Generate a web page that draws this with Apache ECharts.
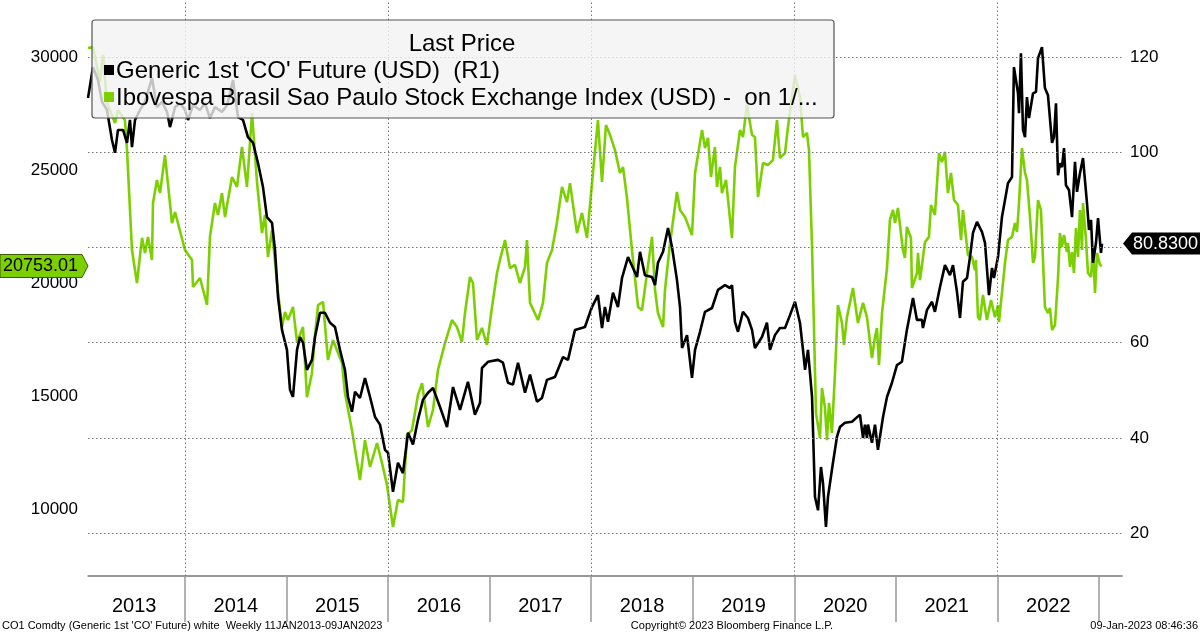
<!DOCTYPE html>
<html><head><meta charset="utf-8">
<script src="https://cdn.jsdelivr.net/npm/echarts@6/dist/echarts.min.js"></script>
<style>html,body{margin:0;padding:0;background:#fff}#c{width:1200px;height:633px}</style>
</head><body><div id="c"></div>
<script>
// Ibovespa (USD), left axis; x = decimal year
const ibovDates = [2013.045,2013.094,2013.163,2013.193,2013.232,2013.311,2013.340,2013.409,2013.429,2013.478,2013.527,2013.577,2013.606,2013.636,2013.675,2013.685,2013.724,2013.754,2013.803,2013.872,2013.902,
2014.000,2014.069,2014.079,2014.148,2014.217,2014.246,2014.295,2014.325,2014.364,2014.394,2014.463,2014.512,2014.561,2014.610,2014.660,2014.709,2014.758,2014.788,2014.817,2014.857,2014.906,2014.955,2014.985,
2015.014,2015.063,2015.103,2015.162,2015.201,2015.250,2015.280,2015.310,2015.359,2015.408,2015.457,2015.546,2015.575,2015.644,2015.723,2015.772,2015.822,2015.891,2015.940,2015.989,
2016.048,2016.097,2016.146,2016.186,2016.235,2016.294,2016.334,2016.393,2016.442,2016.491,2016.560,2016.629,2016.678,2016.727,2016.757,2016.806,2016.836,2016.875,2016.924,2016.973,
2017.023,2017.072,2017.101,2017.151,2017.200,2017.249,2017.298,2017.348,2017.367,2017.397,2017.476,2017.525,2017.564,2017.614,2017.663,2017.712,2017.761,2017.791,2017.860,2017.909,2017.958,
2018.017,2018.066,2018.106,2018.145,2018.185,2018.234,2018.283,2018.313,2018.352,2018.401,2018.461,2018.500,2018.549,2018.598,2018.628,2018.657,2018.707,2018.726,2018.776,2018.844,2018.874,2018.923,2018.992,
2019.022,2019.091,2019.120,2019.150,2019.179,2019.218,2019.238,2019.268,2019.287,2019.327,2019.386,2019.415,2019.465,2019.494,2019.533,2019.583,2019.612,2019.642,2019.691,2019.740,2019.789,2019.829,2019.858,2019.908,2019.937,
2020.006,2020.055,2020.085,2020.124,2020.144,2020.174,2020.213,2020.252,2020.272,2020.301,2020.321,2020.341,2020.370,2020.400,2020.429,2020.469,2020.488,2020.518,2020.577,2020.626,2020.676,2020.715,2020.764,2020.794,2020.813,2020.833,2020.863,2020.912,2020.941,2020.971,2020.991,
2021.020,2021.069,2021.089,2021.108,2021.148,2021.158,2021.207,2021.217,2021.237,2021.286,2021.325,2021.345,2021.384,2021.424,2021.453,2021.483,2021.512,2021.542,2021.572,2021.611,2021.641,2021.660,2021.709,2021.749,2021.778,2021.788,2021.808,2021.827,2021.857,2021.896,2021.936,2021.975,
2022.005,2022.015,2022.044,2022.074,2022.103,2022.143,2022.172,2022.192,2022.212,2022.241,2022.271,2022.290,2022.320,2022.350,2022.369,2022.399,2022.428,2022.467,2022.497,2022.517,2022.537,2022.566,2022.596,2022.615,2022.635,2022.655,2022.684,2022.694,2022.714,2022.734,2022.753,2022.773,2022.793,2022.812,2022.832,2022.842,2022.872,2022.891,2022.921,2022.940,2022.960,2022.980,2023.009,2023.029];
const ibovValues = [30400,30440,28900,30100,27960,27080,27650,27200,25900,21460,20000,22000,21330,22040,21020,23540,24560,23980,25660,22650,23140,
21460,21020,19820,20220,19025,22040,23540,23010,23980,22920,24690,24250,26020,24250,27520,24470,22210,23010,21150,22340,20000,18050,18720,
18360,18940,17390,18050,14950,16010,17700,19025,19160,16590,17480,16460,15130,13490,11280,13050,11860,12920,12030,11060,
9200,10400,10310,13270,13490,15040,15570,13630,14380,16150,17340,18360,18050,17390,18670,20265,20000,17480,18010,17260,
18940,20440,21020,21900,20660,20800,20000,20710,21900,19120,18360,19120,20890,21460,22700,24250,23580,24420,22210,23100,21990,
24870,27210,24470,26990,26550,25880,24870,25130,23760,21460,18940,18800,20440,22040,19690,18670,18050,19690,21770,24030,23230,22920,22120,
24870,26770,25970,26420,24690,26020,24250,25130,23980,24560,21990,25130,26770,26460,27880,26550,26460,23800,25310,25220,25440,27210,25530,25750,26900,
29200,28230,26460,26640,25880,21600,14250,13140,15350,14510,13050,14690,13360,16010,19025,18230,17260,18490,19780,18230,19120,18490,16680,17610,18010,16370,18670,20660,22790,23230,22650,
23320,21460,21110,22480,21990,19780,20440,21330,20130,21810,22040,23450,23010,25750,25350,25800,23980,24870,23670,23450,21900,23230,21240,21150,20570,21020,18490,18360,19470,18360,19250,18490,
19025,18270,19560,20890,21900,22040,22650,22260,23540,25970,24870,24560,22920,20890,21150,23670,23230,18940,18670,18900,17920,18140,20220,22210,21600,22120,21370,21770,20710,21370,20440,22430,21150,23230,21460,23540,21900,20440,20265,21600,19560,21330,20800,20753.01];

// Generic 1st 'CO' Future (USD), right axis
const oilDates = [2013.045,2013.094,2013.143,2013.183,2013.232,2013.281,2013.311,2013.340,2013.390,2013.429,2013.458,2013.478,2013.508,2013.557,2013.606,2013.675,2013.724,2013.774,2013.823,2013.852,2013.902,2013.951,
2014.000,2014.030,2014.079,2014.148,2014.197,2014.246,2014.295,2014.364,2014.414,2014.473,2014.522,2014.571,2014.620,2014.670,2014.719,2014.768,2014.807,2014.857,2014.886,2014.916,2014.955,
2015.004,2015.034,2015.063,2015.103,2015.132,2015.162,2015.201,2015.250,2015.280,2015.329,2015.378,2015.428,2015.477,2015.526,2015.575,2015.605,2015.644,2015.674,2015.723,2015.772,2015.822,2015.871,2015.920,2015.969,2015.999,
2016.048,2016.097,2016.146,2016.196,2016.245,2016.294,2016.343,2016.393,2016.442,2016.511,2016.580,2016.639,2016.708,2016.786,2016.855,2016.905,2016.924,2016.983,
2017.082,2017.131,2017.180,2017.229,2017.279,2017.348,2017.397,2017.466,2017.515,2017.564,2017.643,2017.722,2017.771,2017.840,2017.938,
2018.007,2018.066,2018.106,2018.135,2018.165,2018.214,2018.263,2018.303,2018.362,2018.451,2018.480,2018.529,2018.598,2018.628,2018.657,2018.707,2018.756,2018.795,2018.844,2018.874,2018.894,2018.943,2018.992,
2019.022,2019.071,2019.120,2019.189,2019.248,2019.317,2019.366,2019.386,2019.415,2019.445,2019.494,2019.543,2019.583,2019.612,2019.681,2019.730,2019.760,2019.809,2019.858,2019.908,2019.957,
2020.006,2020.055,2020.085,2020.105,2020.134,2020.174,2020.203,2020.233,2020.262,2020.282,2020.311,2020.331,2020.380,2020.420,2020.449,2020.498,2020.567,2020.646,2020.676,2020.695,2020.715,2020.725,2020.764,2020.794,2020.823,2020.873,2020.912,2020.961,
2021.010,2021.059,2021.108,2021.168,2021.207,2021.256,2021.266,2021.306,2021.355,2021.384,2021.434,2021.483,2021.532,2021.562,2021.601,2021.631,2021.660,2021.700,2021.729,2021.759,2021.798,2021.847,2021.877,2021.916,2021.946,2021.965,
2022.005,2022.044,2022.074,2022.103,2022.143,2022.162,2022.202,2022.212,2022.231,2022.251,2022.271,2022.290,2022.310,2022.350,2022.379,2022.399,2022.438,2022.467,2022.497,2022.537,2022.556,2022.576,2022.596,2022.615,2022.635,2022.655,2022.674,2022.704,2022.734,2022.763,2022.783,2022.812,2022.842,2022.881,2022.901,2022.921,2022.940,2022.970,2022.990,2023.019,2023.029];
const oilValues = [111.4,117.9,115.2,110.6,108.9,102.6,99.9,104.7,104.7,102.0,106.8,101.1,106.8,108.9,110.6,115.6,109.5,110.6,108.5,105.3,109.5,110.3,
108.9,106.8,109.9,108.9,110.3,107.2,109.5,108.5,109.9,115.2,107.4,106.8,103.2,102.0,97.7,92.7,86.4,85.2,79.5,69.6,62.7,
58.5,50.1,48.6,58.5,61.2,60.0,54.3,56.4,61.2,66.3,66.3,64.2,63.3,58.5,54.3,48.6,45.5,49.7,48.4,52.6,48.6,44.4,42.8,37.5,36.9,
28.7,34.8,32.6,41.1,38.6,43.8,48.0,49.5,50.5,46.5,42.3,50.7,45.9,51.8,44.9,47.4,54.7,56.0,
56.4,55.8,51.6,51.2,55.8,49.5,53.3,47.6,48.4,52.2,52.8,57.0,56.4,62.7,63.3,
67.5,70.0,63.1,67.5,64.4,70.5,67.5,73.6,78.0,73.8,79.1,74.2,73.8,72.1,76.8,79.1,84.1,80.1,73.2,67.5,58.9,61.6,52.6,
58.5,62.3,66.5,67.3,71.1,72.1,71.5,72.1,64.4,62.3,66.5,65.2,62.7,58.9,61.2,64.2,58.5,61.6,63.1,63.1,65.8,
68.6,64.2,58.5,54.3,58.5,48.6,27.6,24.8,33.9,30.5,21.3,27.6,34.8,40.3,42.3,43.2,43.4,44.9,40.0,42.8,40.0,42.8,39.0,42.8,37.5,44.4,48.6,51.6,
55.3,56.0,62.7,69.4,64.8,64.8,63.1,66.9,68.6,66.5,71.7,76.3,74.2,76.3,70.7,65.2,72.8,73.6,78.0,83.1,85.4,83.3,81.0,70.0,75.7,73.6,
78.0,86.4,90.0,93.5,94.8,117.9,112.4,108.2,120.8,104.7,103.2,111.6,107.2,112.4,112.7,119.8,122.1,113.5,112.0,102.0,103.2,110.3,95.2,97.7,96.9,100.9,93.1,92.1,86.4,98.0,91.7,95.6,98.8,89.4,83.7,85.8,76.8,81.0,86.2,78.9,80.83];

const leftTicks = [10000,15000,20000,25000,30000];
const rightTicks = [20,40,60,80,100,120];
const yearBounds = [2014,2015,2016,2017,2018,2019,2020,2021,2022,2023];
const yearLabels = [2013,2014,2015,2016,2017,2018,2019,2020,2021,2022];
const vGridYears = [2014,2016,2018,2020,2022];
const legendTitle = 'Last Price';
const oilName = "Generic 1st 'CO' Future (USD)  (R1)";
const ibovName = "Ibovespa Brasil Sao Paulo Stock Exchange Index (USD) -  on 1/...";
const footLeft = "CO1 Comdty (Generic 1st 'CO' Future) white  Weekly 11JAN2013-09JAN2023";
const footMid = "Copyright\u00A9 2023 Bloomberg Finance L.P.";
const footRight = "09-Jan-2023 08:46:36";

const GREEN = '#7ccf00';
const FONT = '"Liberation Sans", Arial, sans-serif';

const chart = echarts.init(document.getElementById('c'), null, {renderer: 'canvas'});
const zip = (xs, ys) => xs.map((x, i) => [x, ys[i]]);

const dotted = {type: [1.5, 2.5], color: '#777', width: 1};

chart.setOption({
  animation: false,
  backgroundColor: '#fff',
  grid: {left: 88, right: 78, top: 0, bottom: 57, containLabel: false},
  xAxis: {
    type: 'value', min: 2013.045, max: 2023.226,
    axisLine: {show: true, lineStyle: {color: '#777', width: 1.5}},
    axisTick: {show: true, customValues: yearBounds, length: 46, lineStyle: {color: '#999', width: 1.5}},
    axisLabel: {customValues: yearLabels.map(y => y + 0.5), formatter: v => String(Math.floor(v)),
      margin: 20, fontSize: 20, color: '#000', fontFamily: FONT},
    splitLine: {show: false}
  },
  yAxis: [
    {type: 'value', min: 7035, max: 32522, position: 'left',
     axisLine: {show: false}, axisTick: {show: false}, splitLine: {show: false},
     axisLabel: {customValues: leftTicks, formatter: v => String(v), margin: 10, fontSize: 17, color: '#000', fontFamily: FONT}},
    {type: 'value', min: 11, max: 132, position: 'right',
     axisLine: {show: false}, axisTick: {show: false}, splitLine: {show: false},
     axisLabel: {customValues: rightTicks, formatter: v => String(v), margin: 8, fontSize: 17, color: '#000', fontFamily: FONT}}
  ],
  series: [
    {name: ibovName, type: 'line', yAxisIndex: 0, data: zip(ibovDates, ibovValues),
     showSymbol: false, lineStyle: {color: GREEN, width: 2.6}, z: 2, silent: true},
    {name: oilName, type: 'line', yAxisIndex: 1, data: zip(oilDates, oilValues),
     showSymbol: false, lineStyle: {color: '#000', width: 2.6}, z: 3, silent: true,
     markLine: {silent: true, symbol: ['none', 'none'], label: {show: false}, lineStyle: dotted,
       emphasis: {disabled: true},
       data: rightTicks.map(v => ({yAxis: v})).concat(vGridYears.map(v => ({xAxis: v})))}}
  ]
});

const lastOil = oilValues[oilValues.length - 1];
const lastIbov = ibovValues[ibovValues.length - 1];
const yOil = chart.convertToPixel({yAxisIndex: 1}, lastOil);
const yIbov = chart.convertToPixel({yAxisIndex: 0}, lastIbov);

chart.setOption({
  graphic: [
    {type: 'rect', z: 100, shape: {x: 92, y: 20, width: 742, height: 98, r: 3},
     style: {fill: 'rgba(242,242,242,0.8)', stroke: '#555', lineWidth: 1.2}},
    {type: 'text', z: 101, x: 462, y: 44, style: {text: legendTitle, font: '24px ' + FONT, fill: '#000', align: 'center', verticalAlign: 'middle'}},
    {type: 'rect', z: 101, shape: {x: 104, y: 65, width: 10, height: 10}, style: {fill: '#000'}},
    {type: 'text', z: 101, x: 116, y: 71, style: {text: oilName, font: '24px ' + FONT, fill: '#000', verticalAlign: 'middle'}},
    {type: 'rect', z: 101, shape: {x: 104, y: 92, width: 10, height: 10}, style: {fill: GREEN}},
    {type: 'text', z: 101, x: 116, y: 98, style: {text: ibovName, font: '24px ' + FONT, fill: '#000', verticalAlign: 'middle'}},
    {type: 'polygon', z: 110, shape: {points: [[1123, yOil], [1132, yOil - 11], [1200, yOil - 11], [1200, yOil + 11], [1132, yOil + 11]]},
     style: {fill: '#000'}},
    {type: 'text', z: 111, x: 1133, y: yOil, style: {text: lastOil.toFixed(4), font: '18px ' + FONT, fill: '#fff', verticalAlign: 'middle'}},
    {type: 'polygon', z: 110, shape: {points: [[0, yIbov - 11.5], [82, yIbov - 11.5], [88, yIbov], [82, yIbov + 11.5], [0, yIbov + 11.5]]},
     style: {fill: GREEN, stroke: '#3a5a00', lineWidth: 1}},
    {type: 'text', z: 111, x: 3, y: yIbov, style: {text: lastIbov.toFixed(2), font: '18px ' + FONT, fill: '#000', verticalAlign: 'middle'}},
    {type: 'text', z: 101, x: 2, y: 626, style: {text: footLeft, font: '11px ' + FONT, fill: '#000', verticalAlign: 'middle'}},
    {type: 'text', z: 101, x: 732, y: 626, style: {text: footMid, font: '11px ' + FONT, fill: '#000', align: 'center', verticalAlign: 'middle'}},
    {type: 'text', z: 101, x: 1198, y: 626, style: {text: footRight, font: '11px ' + FONT, fill: '#000', align: 'right', verticalAlign: 'middle'}}
  ]
});
</script>
</body></html>
